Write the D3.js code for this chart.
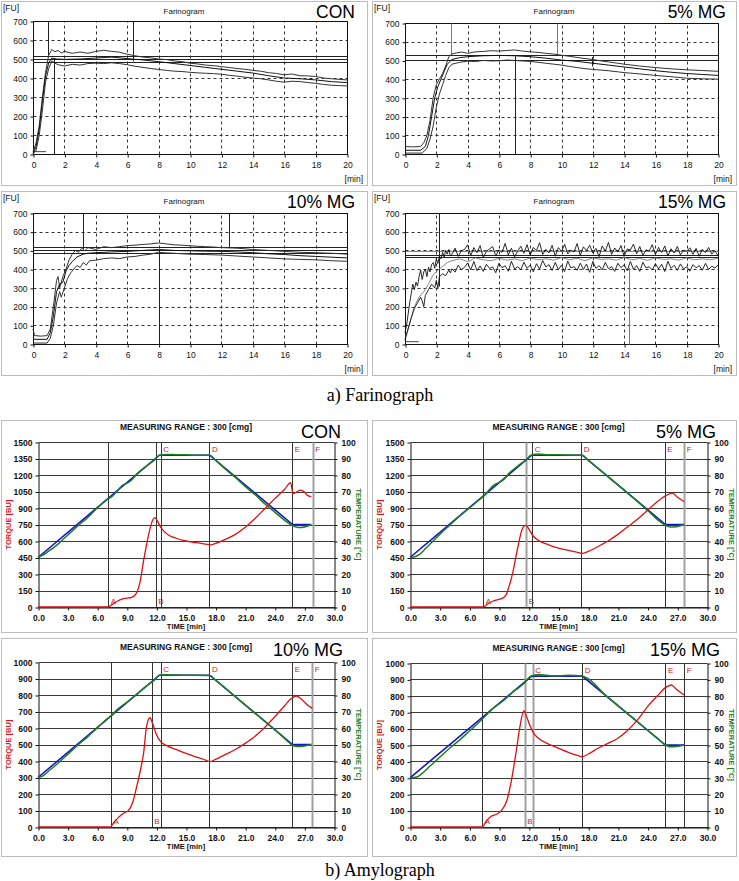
<!DOCTYPE html>
<html><head><meta charset="utf-8">
<script src="https://cdn.jsdelivr.net/npm/d3@7"></script>
<style>body{margin:0;background:#fff}svg{display:block}</style>
</head><body>
<svg id="c" width="739" height="881"></svg>
<script>
// ---------------- DATA ----------------
const farXTicks = [0,2,4,6,8,10,12,14,16,18,20];
const farYTicks = [0,100,200,300,400,500,600,700];
const farLabels = ["CON","5% MG","10% MG","15% MG"];

// Farinograph CON
const farConUpper = [[0,10],[0.2,60],[0.4,150],[0.6,300],[0.8,430],[1.0,520],[1.2,550],[1.4,538],[1.6,545],[1.8,532],[2,540],[2.5,530],[3,537],[3.5,530],[4,540],[4.5,546],[5,540],[5.5,536],[6,525],[6.5,517],[7,510],[7.5,506],[8,500],[8.5,497],[9,490],[9.5,486],[10,478],[10.5,474],[11,468],[11.5,465],[12,460],[12.5,455],[13,450],[13.5,446],[14,440],[14.5,436],[15,428],[15.5,424],[16,417],[16.5,421],[17,412],[17.5,411],[18,408],[18.5,400],[19,396],[19.5,393],[20,390]];
const farConMid = [[0,0],[0.2,40],[0.4,130],[0.6,280],[0.8,410],[1.0,480],[1.2,505],[1.5,500],[2,498],[3,500],[4,505],[5,510],[6,502],[7,495],[8,486],[9,476],[10,466],[11,456],[12,446],[13,436],[14,426],[15,412],[16,400],[17,396],[18,390],[19,381],[20,376]];
const farConLower = [[0,0],[0.2,20],[0.4,100],[0.6,230],[0.8,380],[1.0,450],[1.2,490],[1.4,478],[1.6,470],[2,463],[2.5,472],[3,468],[3.5,476],[4,478],[4.5,476],[5,480],[5.5,476],[6,470],[6.5,462],[7,456],[7.5,450],[8,445],[8.5,440],[9,436],[9.5,434],[10,430],[10.5,427],[11,425],[11.5,423],[12,420],[12.5,414],[13,410],[13.5,404],[14,400],[14.5,396],[15,390],[15.5,383],[16,378],[16.5,383],[17,381],[17.5,376],[18,372],[18.5,366],[19,362],[19.5,360],[20,358]];
// Farinograph 5% MG
const far5Upper = [[0,40],[0.5,38],[1.0,40],[1.2,60],[1.4,100],[1.6,180],[1.8,300],[2.0,370],[2.2,400],[2.4,430],[2.6,470],[2.8,520],[3.0,535],[3.3,540],[3.6,545],[4,538],[4.5,546],[5,548],[5.5,552],[6,550],[6.5,553],[7,556],[7.5,550],[8,546],[8.5,543],[9,538],[9.5,534],[10,528],[10.5,522],[11,516],[11.5,510],[12,505],[12.5,498],[13,492],[13.5,486],[14,480],[14.5,475],[15,470],[16,462],[17,455],[18,450],[19,446],[20,442]];
const far5Mid = [[0,20],[1.0,20],[1.3,40],[1.5,100],[1.7,200],[1.9,300],[2.1,360],[2.3,400],[2.5,440],[2.7,480],[3.0,505],[3.5,515],[4,520],[5,525],[6,527],[7,525],[8,520],[9,512],[10,502],[11,495],[12,485],[13,475],[14,465],[15,455],[16,445],[17,437],[18,430],[19,425],[20,420]];
const far5Lower = [[0,5],[1.1,5],[1.4,30],[1.6,80],[1.8,150],[2.0,250],[2.2,320],[2.4,370],[2.6,420],[2.8,460],[3.0,480],[3.5,490],[4,496],[4.5,494],[5,500],[5.5,497],[6,498],[6.5,502],[7,500],[7.5,497],[8,495],[8.5,490],[9,485],[9.5,480],[10,475],[10.5,468],[11,462],[11.5,456],[12,452],[13,445],[14,435],[15,428],[16,420],[17,413],[18,405],[19,402],[20,400]];
// Farinograph 10% MG
const far10Upper = [[0,80],[0.1,45],[0.5,42],[0.9,45],[1.1,80],[1.3,200],[1.5,340],[1.6,360],[1.7,300],[1.9,360],[2.1,400],[2.3,450],[2.5,480],[2.7,500],[2.9,490],[3.1,512],[3.3,498],[3.5,515],[4,505],[4.5,520],[5,515],[5.5,520],[6,526],[6.5,528],[7,532],[7.5,535],[8,540],[8.5,535],[9,530],[9.5,528],[10,525],[10.5,522],[11,520],[11.5,518],[12,515],[13,512],[14,505],[15,500],[16,495],[17,490],[18,488],[19,485],[20,480]];
const far10Mid = [[0,25],[0.9,25],[1.1,60],[1.3,150],[1.5,280],[1.7,320],[1.9,330],[2.1,390],[2.3,420],[2.5,440],[2.8,465],[3.2,480],[3.5,485],[4,488],[5,492],[6,495],[7,500],[8,505],[9,500],[10,498],[11,496],[12,495],[13,492],[14,488],[15,482],[16,478],[17,472],[18,468],[19,464],[20,460]];
const far10Lower = [[0,5],[0.9,5],[1.1,30],[1.3,100],[1.5,220],[1.7,280],[1.8,250],[2.0,300],[2.2,350],[2.4,380],[2.6,400],[2.8,420],[3.0,408],[3.2,435],[3.4,422],[3.6,445],[4,448],[4.5,456],[5,460],[5.5,456],[6,465],[6.5,468],[7,475],[7.5,480],[8,490],[8.5,487],[9,485],[9.5,482],[10,480],[11,478],[12,475],[13,470],[14,465],[15,460],[16,455],[17,452],[18,450],[19,445],[20,442]];
// Farinograph 15% MG (rise part as pairs, noisy part sampled every 0.2 min from 3.0 min)
const far15UpperRise = [[0,60],[0.1,100],[0.2,160],[0.3,220],[0.4,270],[0.5,320],[0.6,290],[0.7,330],[0.8,310],[0.9,360],[1.0,395],[1.1,345],[1.2,385],[1.3,400],[1.4,360],[1.5,410],[1.6,385],[1.7,425],[1.8,435],[1.9,405],[2.0,455],[2.1,430],[2.2,470],[2.3,455],[2.4,490],[2.5,465],[2.6,500],[2.7,480],[2.8,505],[2.9,470]];
const far15UpperNoise = [480,512,468,498,505,530,472,515,488,526,462,495,508,521,470,503,490,538,476,512,466,497,522,485,531,474,516,499,541,478,
506,487,527,469,515,494,533,481,502,492,537,473,519,500,528,486,511,467,524,496,543,479,513,491,526,468,508,502,534,482,
521,474,503,497,531,478,516,489,524,471,509,486,521,476,500,496,514,479,511,469,506,488,516,480,499,472];
const far15LowerRise = [[0,20],[0.2,80],[0.4,140],[0.6,190],[0.8,220],[1.0,250],[1.1,230],[1.2,200],[1.3,260],[1.5,290],[1.7,320],[1.9,300],[2.0,340],[2.1,300],[2.2,360],[2.4,375],[2.6,365],[2.8,395],[2.9,380]];
const far15LowerNoise = [402,384,421,398,409,433,396,441,392,417,388,426,404,412,381,431,408,418,389,442,401,413,397,437,404,422,386,429,401,446,
412,424,393,436,398,421,387,443,406,414,394,432,399,427,383,441,404,419,396,436,402,414,388,431,408,423,392,441,399,419,
388,437,407,413,396,429,402,426,387,442,404,421,394,428,401,413,389,424,407,419,394,431,398,416,406,421];
const far15MidRise = [[0,30],[0.3,110],[0.6,200],[0.9,250],[1.2,280],[1.5,320],[1.8,370],[2.1,395],[2.4,415],[2.7,435]];
const far15MidNoise = [445,455,440,460,450,445,458,448,455,445,460,450,455,448,462,450,458,445,460,452,455,448,462,450,457,447,460,452,455,448,460,450,455,450,458];
const far15NoiseStart = 3.0, far15NoiseStep = 0.2, far15MidStep = 0.5;

// Farinograph marker lines (FU levels / times)
const farHLines = [[515,500,485],[530,500],[517,501,485],[498,477,464]];
const farVLines = [
  [[0.97,700,520],[1.36,0,505],[6.35,700,490]],
  [[2.92,700,530],[9.69,700,530],[7.0,0,525],[11.97,470,520]],
  [[3.19,700,510],[8.0,0,500],[12.47,700,515]],
  [[2.17,700,310],[14.31,0,410]]
];
const farBaseSeg = [[0,0.8,15],null,null,[0,0.85,15]];

// Amylograph
const amyXTicks = [0,3,6,9,12,15,18,21,24,27,30];
const amyYTicks1500 = [0,150,300,450,600,750,900,1050,1200,1350,1500];
const amyYTicks1000 = [0,100,200,300,400,500,600,700,800,900,1000];
const amyTempTicks = [0,10,20,30,40,50,60,70,80,90,100];
const amyLabels = ["CON","5% MG","10% MG","15% MG"];
const amyConTorque = [[0,0],[7.1,0],[7.5,22],[8,50],[8.5,72],[9,80],[9.5,88],[9.9,115],[10.3,210],[10.7,420],[11.1,610],[11.5,760],[11.8,812],[12.05,790],[12.4,730],[12.8,685],[13.3,650],[14,625],[15,600],[16,585],[17,572],[17.5,565],[18,578],[19,615],[20,660],[21,725],[22,805],[23,895],[24,985],[25,1070],[25.6,1130],[25.85,1030],[26.2,1045],[26.6,1062],[27,1045],[27.3,1015],[27.7,1003]];
const amy5Torque = [[0,0],[7.4,0],[7.8,25],[8.3,50],[8.8,65],[9.3,78],[9.7,110],[10.0,185],[10.4,320],[10.7,457],[11.0,590],[11.2,670],[11.5,735],[11.7,742],[12.0,710],[12.4,650],[12.8,615],[13.2,594],[14,565],[15,535],[16,515],[17,495],[17.4,488],[18,505],[19,550],[20,600],[21,660],[22,730],[23,800],[24,880],[25,960],[25.8,1010],[26.5,1036],[27,1000],[27.7,957]];
const amy10Torque = [[0,0],[7.35,0],[7.7,30],[8.2,60],[8.7,85],[9.15,99],[9.6,150],[10.0,244],[10.4,350],[10.7,446],[11.0,608],[11.35,662],[11.6,630],[12.0,560],[12.43,517],[13,495],[14,470],[15,446],[16,425],[17,405],[17.4,396],[18,410],[19,440],[20,470],[21,507],[22,550],[23,605],[24,668],[25,735],[25.7,780],[26.2,794],[26.6,780],[27.2,745],[27.8,719]];
const amy15Torque = [[0,0],[7.3,0],[7.7,35],[8.2,65],[8.8,79],[9.2,98],[9.8,165],[10.2,270],[10.7,450],[11.1,610],[11.5,709],[11.8,670],[12.1,620],[12.5,571],[13,540],[14,505],[15,480],[16,455],[17,435],[17.4,429],[18,445],[19,480],[20,510],[21,541],[22,590],[23,655],[24,734],[25,800],[25.8,850],[26.4,866],[26.9,840],[27.7,805]];
const amyProgram = [[0,30],[12.3,92],[17.4,92],[25.8,50],[27.7,50]];
const amyConTemp = [[0,30],[0.5,31.5],[1,33.5],[2,38],[3,43.5],[4,49],[5,54],[6,60],[7,65],[7.5,67],[8,70],[8.5,73.5],[9,75],[9.5,77],[10,80.5],[11,85.5],[11.8,89],[12.3,92],[13,92.5],[14,92.3],[15,92.2],[16,92],[17.4,92],[18,89],[19,83.5],[20,78.5],[21,73],[22,68],[23,62.5],[24,57.5],[25,52.5],[25.6,50],[26,48.7],[26.5,48.2],[27,48.5],[27.7,50]];
const amy5Temp = [[0,30],[0.5,30.5],[1,32],[1.5,35],[2,38],[3,44],[4,49.5],[5,55],[6,60],[7,65],[7.5,67.5],[8,71],[8.5,74],[9,75.5],[9.5,77.5],[10,81],[11,86],[11.8,89.5],[12.2,92],[13,92.7],[14,92.3],[15,92.2],[17.4,92],[18,89],[20,79],[22,69],[24,58.5],[25.2,52],[25.8,49.5],[26.3,48.5],[26.9,48.7],[27.7,50]];
const amy10Temp = [[0,30],[0.5,31],[1,33.5],[2,38.5],[3,44],[4,49.5],[5,54.5],[6,60],[7,65.5],[7.5,68],[8,71],[8.5,73.5],[9,75.5],[9.5,78],[10,80.5],[11,85.5],[11.8,89],[12.3,92],[13,92.3],[14,92.1],[15,92],[17.4,91.8],[18,89],[20,79],[22,69],[24,59],[25.2,52.5],[25.8,49.5],[26.3,48.8],[26.9,49],[27.7,50]];
const amy15Temp = [[0,30],[0.7,30.5],[1.2,32.5],[2,37],[3,42.5],[4,48],[5,53],[6,58.5],[7,64],[8,70],[8.5,73],[9,75],[10,80],[10.5,83],[11,85],[11.5,87.5],[12.2,92],[13,93],[14.5,92],[16,92.5],[17.4,92],[20,79],[23,64],[25,54],[25.8,50],[26.2,49],[26.7,49],[27.7,50]];
// marker times A..F and whether drawn grey
const amyMarkers = [
  [[7.13,"A",0],[11.93,"B",0],[12.43,"C",0],[17.37,"D",0],[25.77,"E",0],[27.84,"F",1]],
  [[7.4,"A",0],[11.75,"B",1],[12.35,"C",0],[17.3,"D",0],[25.73,"E",0],[27.7,"F",1]],
  [[7.4,"A",0],[11.52,"B",0],[12.43,"C",0],[17.37,"D",0],[25.77,"E",0],[27.8,"F",1]],
  [[7.3,"A",0],[11.6,"B",1],[12.4,"C",1],[17.4,"D",0],[25.8,"E",0],[27.7,"F",0]]
];

// ---------------- LAYOUT ----------------
const svg = d3.select("#c");
const SANS = "'Liberation Sans', Arial, sans-serif";
const NARROW = "'Liberation Sans Narrow','Arial Narrow','Liberation Sans',sans-serif";

function noisy(rise, vals, start, step){
  return rise.concat(vals.map((v,i)=>[start+i*step, v]));
}
const farSeries = [
  [farConUpper, farConMid, farConLower],
  [far5Upper, far5Mid, far5Lower],
  [far10Upper, far10Mid, far10Lower],
  [noisy(far15UpperRise, far15UpperNoise, far15NoiseStart, far15NoiseStep),
   noisy(far15MidRise, far15MidNoise, far15NoiseStart, far15MidStep),
   noisy(far15LowerRise, far15LowerNoise, far15NoiseStart, far15NoiseStep)]
];

const farLayout = [
  {box:[1,1,366,184], x0:33, x1:347, y0:154, y1:21},
  {box:[372,1,364,184], x0:405, x1:718, y0:154, y1:23},
  {box:[1,191,366,184], x0:33, x1:347, y0:344, y1:213},
  {box:[372,191,364,184], x0:405, x1:718, y0:344, y1:213}
];

function drawFar(i){
  const L = farLayout[i], b = L.box;
  svg.append("rect").attr("x",b[0]+0.5).attr("y",b[1]+0.5).attr("width",b[2]).attr("height",b[3])
    .attr("fill","#fff").attr("stroke","#bdbdbd");
  const x = d3.scaleLinear().domain([0,20]).range([L.x0,L.x1]);
  const y = d3.scaleLinear().domain([0,700]).range([L.y0,L.y1]);
  const g = svg.append("g").attr("transform","translate(0.5,0.5)");
  // dashed grid
  g.append("g").selectAll("line").data(farXTicks.filter(d=>d>0&&d<20)).join("line")
    .attr("x1",d=>Math.round(x(d))).attr("x2",d=>Math.round(x(d)))
    .attr("y1",L.y0).attr("y2",L.y1).attr("stroke","#333").attr("stroke-dasharray","3,3");
  g.append("g").selectAll("line").data(farYTicks.filter(d=>d>0&&d<700)).join("line")
    .attr("y1",d=>Math.round(y(d))).attr("y2",d=>Math.round(y(d)))
    .attr("x1",L.x0).attr("x2",L.x1).attr("stroke","#333").attr("stroke-dasharray","3,3");
  // axes
  const ax = g.append("g").attr("transform",`translate(0,${L.y0})`)
    .call(d3.axisBottom(x).tickValues(farXTicks).tickSize(3).tickSizeOuter(0));
  const ay = g.append("g").attr("transform",`translate(${L.x0},0)`)
    .call(d3.axisLeft(y).tickValues(farYTicks).tickSize(3).tickSizeOuter(0));
  [ax,ay].forEach(a=>{
    a.select(".domain").remove();
    a.selectAll("text").attr("font-family",SANS).attr("font-size",8.5).attr("fill","#111");
    a.selectAll("line").attr("stroke","#111");
  });
  ax.selectAll("text").attr("dy","0.9em");
  // frame
  g.append("rect").attr("x",L.x0).attr("y",L.y1).attr("width",L.x1-L.x0).attr("height",L.y0-L.y1)
    .attr("fill","none").attr("stroke","#111");
  // marker horizontal lines
  g.append("g").selectAll("line").data(farHLines[i]).join("line")
    .attr("x1",x(0)).attr("x2",x(20)).attr("y1",d=>Math.round(y(d))).attr("y2",d=>Math.round(y(d)))
    .attr("stroke",(d,k)=> (i===3&&k===0)?"#8a8a8a":"#222");
  // marker vertical lines
  g.append("g").selectAll("line").data(farVLines[i]).join("line")
    .attr("x1",d=>Math.round(x(d[0]))).attr("x2",d=>Math.round(x(d[0])))
    .attr("y1",d=>y(d[1])).attr("y2",d=>y(d[2]))
    .attr("stroke",(d,k)=> (i===1&&(k===0||k===1))||(i===3&&k===1)?"#777":"#222");
  if (farBaseSeg[i]) {
    const s = farBaseSeg[i];
    g.append("line").attr("x1",x(s[0])).attr("x2",x(s[1])).attr("y1",y(s[2])).attr("y2",y(s[2])).attr("stroke","#444");
  }
  // curves
  const line = d3.line().x(d=>x(d[0])).y(d=>y(d[1]));
  const cols = i===3 ? ["#111","#777","#111"] : ["#333","#111","#333"];
  farSeries[i].forEach((s,k)=>{
    svg.append("path").datum(s).attr("d",line).attr("fill","none")
      .attr("stroke",cols[k]).attr("stroke-width", i===3?0.9:1).attr("stroke-linejoin","round");
  });
  // texts
  svg.append("text").attr("x",b[0]+2).attr("y",b[1]+10).text("[FU]")
    .attr("font-family",SANS).attr("font-size",8.5).attr("fill","#111");
  svg.append("text").attr("x",b[0]+b[2]/2).attr("y",b[1]+13).attr("text-anchor","middle").text("Farinogram")
    .attr("font-family",SANS).attr("font-size",8).attr("fill","#111");
  svg.append("text").attr("x",b[0]+b[2]-4).attr("y",b[1]+b[3]-3).attr("text-anchor","end").text("[min]")
    .attr("font-family",SANS).attr("font-size",8.5).attr("fill","#111");
  svg.append("text").attr("x",b[0]+354).attr("y",b[1]+17).attr("text-anchor","end").text(farLabels[i])
    .attr("font-family",SANS).attr("font-size",17.5).attr("fill","#000");
}
for (let i=0;i<4;i++) drawFar(i);

// caption a
svg.append("text").attr("x",380).attr("y",401).attr("text-anchor","middle").text("a) Farinograph")
  .attr("font-family","'Liberation Serif','Times New Roman',serif").attr("font-size",18).attr("fill","#000");

// ---------------- AMYLOGRAPH ----------------
const amyLayout = [
  {box:[1,420,366,212], x0:38, x1:334, y0:607, y1:442, ymax:1500, ticks:amyYTicks1500, lx:341, ly:438},
  {box:[372,420,364,212], x0:410, x1:707, y0:607, y1:442, ymax:1500, ticks:amyYTicks1500, lx:716, ly:438},
  {box:[1,638,366,218], x0:38, x1:334, y0:827, y1:662, ymax:1000, ticks:amyYTicks1000, lx:343, ly:656},
  {box:[372,638,364,218], x0:410, x1:707, y0:827, y1:663, ymax:1000, ticks:amyYTicks1000, lx:720, ly:656}
];
const amyTorque = [amyConTorque, amy5Torque, amy10Torque, amy15Torque];
const amyTemp = [amyConTemp, amy5Temp, amy10Temp, amy15Temp];
const RED = "#dd1111", BLUE = "#1414c8", GREEN = "#1f7f1f";

function drawAmy(i){
  const L = amyLayout[i], b = L.box;
  svg.append("rect").attr("x",b[0]+0.5).attr("y",b[1]+0.5).attr("width",b[2]).attr("height",b[3])
    .attr("fill","#fff").attr("stroke","#bdbdbd");
  const x = d3.scaleLinear().domain([0,30]).range([L.x0,L.x1]);
  const yL = d3.scaleLinear().domain([0,L.ymax]).range([L.y0,L.y1]);
  const yR = d3.scaleLinear().domain([0,100]).range([L.y0,L.y1]);
  const g = svg.append("g").attr("transform","translate(0.5,0.5)");
  // horizontal grid
  g.append("g").selectAll("line").data(L.ticks).join("line")
    .attr("x1",L.x0).attr("x2",L.x1).attr("y1",d=>Math.round(yL(d))).attr("y2",d=>Math.round(yL(d)))
    .attr("stroke","#3a3a3a");
  // vertical markers
  g.append("g").selectAll("line").data(amyMarkers[i]).join("line")
    .attr("x1",d=>Math.round(x(d[0]))).attr("x2",d=>Math.round(x(d[0])))
    .attr("y1",L.y0).attr("y2",L.y1)
    .attr("stroke",d=>d[2]?"#a0a0a0":"#333").attr("stroke-width",d=>d[2]?2:1);
  // axes
  const ax = g.append("g").attr("transform",`translate(0,${L.y0})`)
    .call(d3.axisBottom(x).tickValues(amyXTicks).tickFormat(d3.format(".1f")).tickSize(3).tickSizeOuter(0));
  const ayl = g.append("g").attr("transform",`translate(${L.x0},0)`)
    .call(d3.axisLeft(yL).tickValues(L.ticks).tickFormat(d3.format("d")).tickSize(3).tickSizeOuter(0));
  const ayr = g.append("g").attr("transform",`translate(${L.x1},0)`)
    .call(d3.axisRight(yR).tickValues(amyTempTicks).tickFormat(d3.format("d")).tickSize(3).tickSizeOuter(0));
  [ax,ayl,ayr].forEach(a=>{
    a.selectAll("text").attr("font-family",NARROW).attr("font-weight","bold").attr("font-size",8.5).attr("fill","#111");
    a.selectAll("line").attr("stroke","#111");
    a.select(".domain").attr("stroke","#111");
  });
  ax.selectAll("text").attr("dy","0.85em");
  ayr.selectAll("text").attr("x",7);
  // curves
  const tl = d3.line().x(d=>x(d[0])).y(d=>yR(d[1]));
  svg.append("path").datum(amyProgram).attr("d",tl).attr("fill","none").attr("stroke",BLUE).attr("stroke-width",1.6);
  svg.append("path").datum(amyTemp[i]).attr("d",tl.curve(d3.curveMonotoneX)).attr("fill","none").attr("stroke",GREEN).attr("stroke-width",1.5);
  const rl = d3.line().x(d=>x(d[0])).y(d=>yL(d[1])).curve(d3.curveMonotoneX);
  svg.append("path").datum(amyTorque[i]).attr("d",rl).attr("fill","none").attr("stroke",RED).attr("stroke-width",1.3);
  // marker letters
  svg.append("g").selectAll("text").data(amyMarkers[i]).join("text")
    .attr("x",d=>x(d[0])+2.5)
    .attr("y",d=>(d[1]==="A"||d[1]==="B")?L.y0-3:L.y1+10)
    .text(d=>d[1]).attr("font-family",SANS).attr("font-size",8).attr("fill","#cc2222");
  // titles
  const cx = (L.x0+L.x1)/2;
  svg.append("text").attr("x",cx).attr("y",L.y1-12).attr("text-anchor","middle").text("MEASURING RANGE : 300 [cmg]")
    .attr("font-family",NARROW).attr("font-weight","bold").attr("font-size",8.5).attr("fill","#111");
  svg.append("text").attr("x",cx).attr("y",L.y0+22).attr("text-anchor","middle").text("TIME  [min]")
    .attr("font-family",NARROW).attr("font-weight","bold").attr("font-size",7.5).attr("fill","#111");
  const cy = (L.y0+L.y1)/2;
  svg.append("text").attr("transform",`translate(${b[0]+10},${cy}) rotate(-90)`).attr("text-anchor","middle")
    .text("TORQUE  [BU]").attr("font-family",NARROW).attr("font-weight","bold").attr("font-size",7.5).attr("fill",RED);
  svg.append("text").attr("transform",`translate(${L.x1+22},${cy}) rotate(90)`).attr("text-anchor","middle")
    .text("TEMPERATURE  [°C]").attr("font-family",NARROW).attr("font-weight","bold").attr("font-size",7.5).attr("fill",GREEN);
  svg.append("text").attr("x",L.lx).attr("y",L.ly).attr("text-anchor","end").text(amyLabels[i])
    .attr("font-family",SANS).attr("font-size",18).attr("fill","#000");
}
for (let i=0;i<4;i++) drawAmy(i);

svg.append("text").attr("x",380).attr("y",876).attr("text-anchor","middle").text("b) Amylograph")
  .attr("font-family","'Liberation Serif','Times New Roman',serif").attr("font-size",18).attr("fill","#000");
</script>
</body></html>
